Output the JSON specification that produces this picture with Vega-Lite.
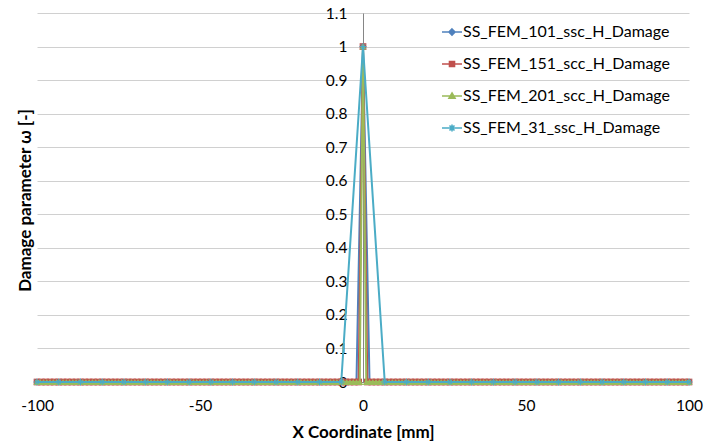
{
"$schema":"https://vega.github.io/schema/vega-lite/v6.json",
"width":652,"height":369,
"autosize":"none",
"padding":{"left":37,"top":13,"right":16,"bottom":61},
"background":"white",
"datasets":{
"a":[{"x":-100,"y":0},{"x":-98,"y":0},{"x":-96,"y":0},{"x":-94,"y":0},{"x":-92,"y":0},{"x":-90,"y":0},{"x":-88,"y":0},{"x":-86,"y":0},{"x":-84,"y":0},{"x":-82,"y":0},{"x":-80,"y":0},{"x":-78,"y":0},{"x":-76,"y":0},{"x":-74,"y":0},{"x":-72,"y":0},{"x":-70,"y":0},{"x":-68,"y":0},{"x":-66,"y":0},{"x":-64,"y":0},{"x":-62,"y":0},{"x":-60,"y":0},{"x":-58,"y":0},{"x":-56,"y":0},{"x":-54,"y":0},{"x":-52,"y":0},{"x":-50,"y":0},{"x":-48,"y":0},{"x":-46,"y":0},{"x":-44,"y":0},{"x":-42,"y":0},{"x":-40,"y":0},{"x":-38,"y":0},{"x":-36,"y":0},{"x":-34,"y":0},{"x":-32,"y":0},{"x":-30,"y":0},{"x":-28,"y":0},{"x":-26,"y":0},{"x":-24,"y":0},{"x":-22,"y":0},{"x":-20,"y":0},{"x":-18,"y":0},{"x":-16,"y":0},{"x":-14,"y":0},{"x":-12,"y":0},{"x":-10,"y":0},{"x":-8,"y":0},{"x":-6,"y":0},{"x":-4,"y":0},{"x":-2,"y":0},{"x":0,"y":1},{"x":2,"y":0},{"x":4,"y":0},{"x":6,"y":0},{"x":8,"y":0},{"x":10,"y":0},{"x":12,"y":0},{"x":14,"y":0},{"x":16,"y":0},{"x":18,"y":0},{"x":20,"y":0},{"x":22,"y":0},{"x":24,"y":0},{"x":26,"y":0},{"x":28,"y":0},{"x":30,"y":0},{"x":32,"y":0},{"x":34,"y":0},{"x":36,"y":0},{"x":38,"y":0},{"x":40,"y":0},{"x":42,"y":0},{"x":44,"y":0},{"x":46,"y":0},{"x":48,"y":0},{"x":50,"y":0},{"x":52,"y":0},{"x":54,"y":0},{"x":56,"y":0},{"x":58,"y":0},{"x":60,"y":0},{"x":62,"y":0},{"x":64,"y":0},{"x":66,"y":0},{"x":68,"y":0},{"x":70,"y":0},{"x":72,"y":0},{"x":74,"y":0},{"x":76,"y":0},{"x":78,"y":0},{"x":80,"y":0},{"x":82,"y":0},{"x":84,"y":0},{"x":86,"y":0},{"x":88,"y":0},{"x":90,"y":0},{"x":92,"y":0},{"x":94,"y":0},{"x":96,"y":0},{"x":98,"y":0},{"x":100,"y":0}],
"b":[{"x":-100,"y":0},{"x":-98.67,"y":0},{"x":-97.33,"y":0},{"x":-96,"y":0},{"x":-94.67,"y":0},{"x":-93.33,"y":0},{"x":-92,"y":0},{"x":-90.67,"y":0},{"x":-89.33,"y":0},{"x":-88,"y":0},{"x":-86.67,"y":0},{"x":-85.33,"y":0},{"x":-84,"y":0},{"x":-82.67,"y":0},{"x":-81.33,"y":0},{"x":-80,"y":0},{"x":-78.67,"y":0},{"x":-77.33,"y":0},{"x":-76,"y":0},{"x":-74.67,"y":0},{"x":-73.33,"y":0},{"x":-72,"y":0},{"x":-70.67,"y":0},{"x":-69.33,"y":0},{"x":-68,"y":0},{"x":-66.67,"y":0},{"x":-65.33,"y":0},{"x":-64,"y":0},{"x":-62.67,"y":0},{"x":-61.33,"y":0},{"x":-60,"y":0},{"x":-58.67,"y":0},{"x":-57.33,"y":0},{"x":-56,"y":0},{"x":-54.67,"y":0},{"x":-53.33,"y":0},{"x":-52,"y":0},{"x":-50.67,"y":0},{"x":-49.33,"y":0},{"x":-48,"y":0},{"x":-46.67,"y":0},{"x":-45.33,"y":0},{"x":-44,"y":0},{"x":-42.67,"y":0},{"x":-41.33,"y":0},{"x":-40,"y":0},{"x":-38.67,"y":0},{"x":-37.33,"y":0},{"x":-36,"y":0},{"x":-34.67,"y":0},{"x":-33.33,"y":0},{"x":-32,"y":0},{"x":-30.67,"y":0},{"x":-29.33,"y":0},{"x":-28,"y":0},{"x":-26.67,"y":0},{"x":-25.33,"y":0},{"x":-24,"y":0},{"x":-22.67,"y":0},{"x":-21.33,"y":0},{"x":-20,"y":0},{"x":-18.67,"y":0},{"x":-17.33,"y":0},{"x":-16,"y":0},{"x":-14.67,"y":0},{"x":-13.33,"y":0},{"x":-12,"y":0},{"x":-10.67,"y":0},{"x":-9.33,"y":0},{"x":-8,"y":0},{"x":-6.67,"y":0},{"x":-5.33,"y":0},{"x":-4,"y":0},{"x":-2.67,"y":0},{"x":-1.33,"y":0},{"x":0,"y":1},{"x":1.33,"y":0},{"x":2.67,"y":0},{"x":4,"y":0},{"x":5.33,"y":0},{"x":6.67,"y":0},{"x":8,"y":0},{"x":9.33,"y":0},{"x":10.67,"y":0},{"x":12,"y":0},{"x":13.33,"y":0},{"x":14.67,"y":0},{"x":16,"y":0},{"x":17.33,"y":0},{"x":18.67,"y":0},{"x":20,"y":0},{"x":21.33,"y":0},{"x":22.67,"y":0},{"x":24,"y":0},{"x":25.33,"y":0},{"x":26.67,"y":0},{"x":28,"y":0},{"x":29.33,"y":0},{"x":30.67,"y":0},{"x":32,"y":0},{"x":33.33,"y":0},{"x":34.67,"y":0},{"x":36,"y":0},{"x":37.33,"y":0},{"x":38.67,"y":0},{"x":40,"y":0},{"x":41.33,"y":0},{"x":42.67,"y":0},{"x":44,"y":0},{"x":45.33,"y":0},{"x":46.67,"y":0},{"x":48,"y":0},{"x":49.33,"y":0},{"x":50.67,"y":0},{"x":52,"y":0},{"x":53.33,"y":0},{"x":54.67,"y":0},{"x":56,"y":0},{"x":57.33,"y":0},{"x":58.67,"y":0},{"x":60,"y":0},{"x":61.33,"y":0},{"x":62.67,"y":0},{"x":64,"y":0},{"x":65.33,"y":0},{"x":66.67,"y":0},{"x":68,"y":0},{"x":69.33,"y":0},{"x":70.67,"y":0},{"x":72,"y":0},{"x":73.33,"y":0},{"x":74.67,"y":0},{"x":76,"y":0},{"x":77.33,"y":0},{"x":78.67,"y":0},{"x":80,"y":0},{"x":81.33,"y":0},{"x":82.67,"y":0},{"x":84,"y":0},{"x":85.33,"y":0},{"x":86.67,"y":0},{"x":88,"y":0},{"x":89.33,"y":0},{"x":90.67,"y":0},{"x":92,"y":0},{"x":93.33,"y":0},{"x":94.67,"y":0},{"x":96,"y":0},{"x":97.33,"y":0},{"x":98.67,"y":0},{"x":100,"y":0}],
"c":[{"x":-100,"y":0},{"x":-99,"y":0},{"x":-98,"y":0},{"x":-97,"y":0},{"x":-96,"y":0},{"x":-95,"y":0},{"x":-94,"y":0},{"x":-93,"y":0},{"x":-92,"y":0},{"x":-91,"y":0},{"x":-90,"y":0},{"x":-89,"y":0},{"x":-88,"y":0},{"x":-87,"y":0},{"x":-86,"y":0},{"x":-85,"y":0},{"x":-84,"y":0},{"x":-83,"y":0},{"x":-82,"y":0},{"x":-81,"y":0},{"x":-80,"y":0},{"x":-79,"y":0},{"x":-78,"y":0},{"x":-77,"y":0},{"x":-76,"y":0},{"x":-75,"y":0},{"x":-74,"y":0},{"x":-73,"y":0},{"x":-72,"y":0},{"x":-71,"y":0},{"x":-70,"y":0},{"x":-69,"y":0},{"x":-68,"y":0},{"x":-67,"y":0},{"x":-66,"y":0},{"x":-65,"y":0},{"x":-64,"y":0},{"x":-63,"y":0},{"x":-62,"y":0},{"x":-61,"y":0},{"x":-60,"y":0},{"x":-59,"y":0},{"x":-58,"y":0},{"x":-57,"y":0},{"x":-56,"y":0},{"x":-55,"y":0},{"x":-54,"y":0},{"x":-53,"y":0},{"x":-52,"y":0},{"x":-51,"y":0},{"x":-50,"y":0},{"x":-49,"y":0},{"x":-48,"y":0},{"x":-47,"y":0},{"x":-46,"y":0},{"x":-45,"y":0},{"x":-44,"y":0},{"x":-43,"y":0},{"x":-42,"y":0},{"x":-41,"y":0},{"x":-40,"y":0},{"x":-39,"y":0},{"x":-38,"y":0},{"x":-37,"y":0},{"x":-36,"y":0},{"x":-35,"y":0},{"x":-34,"y":0},{"x":-33,"y":0},{"x":-32,"y":0},{"x":-31,"y":0},{"x":-30,"y":0},{"x":-29,"y":0},{"x":-28,"y":0},{"x":-27,"y":0},{"x":-26,"y":0},{"x":-25,"y":0},{"x":-24,"y":0},{"x":-23,"y":0},{"x":-22,"y":0},{"x":-21,"y":0},{"x":-20,"y":0},{"x":-19,"y":0},{"x":-18,"y":0},{"x":-17,"y":0},{"x":-16,"y":0},{"x":-15,"y":0},{"x":-14,"y":0},{"x":-13,"y":0},{"x":-12,"y":0},{"x":-11,"y":0},{"x":-10,"y":0},{"x":-9,"y":0},{"x":-8,"y":0},{"x":-7,"y":0},{"x":-6,"y":0},{"x":-5,"y":0},{"x":-4,"y":0},{"x":-3,"y":0},{"x":-2,"y":0},{"x":-1,"y":0},{"x":0,"y":1},{"x":1,"y":0},{"x":2,"y":0},{"x":3,"y":0},{"x":4,"y":0},{"x":5,"y":0},{"x":6,"y":0},{"x":7,"y":0},{"x":8,"y":0},{"x":9,"y":0},{"x":10,"y":0},{"x":11,"y":0},{"x":12,"y":0},{"x":13,"y":0},{"x":14,"y":0},{"x":15,"y":0},{"x":16,"y":0},{"x":17,"y":0},{"x":18,"y":0},{"x":19,"y":0},{"x":20,"y":0},{"x":21,"y":0},{"x":22,"y":0},{"x":23,"y":0},{"x":24,"y":0},{"x":25,"y":0},{"x":26,"y":0},{"x":27,"y":0},{"x":28,"y":0},{"x":29,"y":0},{"x":30,"y":0},{"x":31,"y":0},{"x":32,"y":0},{"x":33,"y":0},{"x":34,"y":0},{"x":35,"y":0},{"x":36,"y":0},{"x":37,"y":0},{"x":38,"y":0},{"x":39,"y":0},{"x":40,"y":0},{"x":41,"y":0},{"x":42,"y":0},{"x":43,"y":0},{"x":44,"y":0},{"x":45,"y":0},{"x":46,"y":0},{"x":47,"y":0},{"x":48,"y":0},{"x":49,"y":0},{"x":50,"y":0},{"x":51,"y":0},{"x":52,"y":0},{"x":53,"y":0},{"x":54,"y":0},{"x":55,"y":0},{"x":56,"y":0},{"x":57,"y":0},{"x":58,"y":0},{"x":59,"y":0},{"x":60,"y":0},{"x":61,"y":0},{"x":62,"y":0},{"x":63,"y":0},{"x":64,"y":0},{"x":65,"y":0},{"x":66,"y":0},{"x":67,"y":0},{"x":68,"y":0},{"x":69,"y":0},{"x":70,"y":0},{"x":71,"y":0},{"x":72,"y":0},{"x":73,"y":0},{"x":74,"y":0},{"x":75,"y":0},{"x":76,"y":0},{"x":77,"y":0},{"x":78,"y":0},{"x":79,"y":0},{"x":80,"y":0},{"x":81,"y":0},{"x":82,"y":0},{"x":83,"y":0},{"x":84,"y":0},{"x":85,"y":0},{"x":86,"y":0},{"x":87,"y":0},{"x":88,"y":0},{"x":89,"y":0},{"x":90,"y":0},{"x":91,"y":0},{"x":92,"y":0},{"x":93,"y":0},{"x":94,"y":0},{"x":95,"y":0},{"x":96,"y":0},{"x":97,"y":0},{"x":98,"y":0},{"x":99,"y":0},{"x":100,"y":0}],
"d":[{"x":-100,"y":0},{"x":-93.33,"y":0},{"x":-86.67,"y":0},{"x":-80,"y":0},{"x":-73.33,"y":0},{"x":-66.67,"y":0},{"x":-60,"y":0},{"x":-53.33,"y":0},{"x":-46.67,"y":0},{"x":-40,"y":0},{"x":-33.33,"y":0},{"x":-26.67,"y":0},{"x":-20,"y":0},{"x":-13.33,"y":0},{"x":-6.67,"y":0},{"x":0,"y":1},{"x":6.67,"y":0},{"x":13.33,"y":0},{"x":20,"y":0},{"x":26.67,"y":0},{"x":33.33,"y":0},{"x":40,"y":0},{"x":46.67,"y":0},{"x":53.33,"y":0},{"x":60,"y":0},{"x":66.67,"y":0},{"x":73.33,"y":0},{"x":80,"y":0},{"x":86.67,"y":0},{"x":93.33,"y":0},{"x":100,"y":0}]
},
"encoding":{
"x":{"field":"x","type":"quantitative","scale":{"domain":[-100,100],"nice":false,"zero":false},
 "axis":{"values":[-100,-50,0,50,100],"labelExpr":"datum.value + ''","grid":false,"ticks":false,"domainColor":"#868686","labelPadding":16,"labelFontSize":15.5,"labelColor":"#000000","labelFlush":false,"labelOverlap":false,
 "title":"X Coordinate [mm]","titleFontWeight":"bold","titleFontSize":17,"titleColor":"#000000","titleBaseline":"middle","titleY":50}},
"y":{"field":"y","type":"quantitative","scale":{"domain":[0,1.1],"nice":false},
 "axis":{"values":[0,0.1,0.2,0.3,0.4,0.5,0.6,0.7,0.8,0.9,1,1.1],"format":".1~f","offset":-326,"grid":true,"gridColor":"#d0d0d0","gridWidth":1,"ticks":false,"domainColor":"#868686","labelPadding":16,"labelFontSize":15.5,"labelColor":"#000000","labelFlush":false,"labelOverlap":false,
 "title":"Damage parameter ω [-]","titleX":-338,"titleY":187,"titleBaseline":"middle","titleFontWeight":"bold","titleFontSize":17,"titleColor":"#000000"}}
},
"layer":[
{"data":{"name":"a"},"mark":{"type":"line","strokeWidth":2},"encoding":{"color":{"datum":"SS_FEM_101_ssc_H_Damage","type":"nominal",
 "scale":{"domain":["SS_FEM_101_ssc_H_Damage","SS_FEM_151_scc_H_Damage","SS_FEM_201_scc_H_Damage","SS_FEM_31_ssc_H_Damage"],"range":["#4F81BD","#C0504D","#9BBB59","#4BACC6"]},
 "legend":{"orient":"none","legendX":404,"legendY":8,"title":null,"labelFontSize":16,"labelColor":"#000000","labelLimit":0,"rowPadding":13,"padding":0,"labelOffset":0,"symbolSize":400,
  "encode":{"symbols":{"update":{
   "shape":{"signal":"datum.value === 'SS_FEM_101_ssc_H_Damage' ? 'M-1,0H1M0,-0.3L0.3,0L0,0.3L-0.3,0Z' : datum.value === 'SS_FEM_151_scc_H_Damage' ? 'M-1,0H1M-0.25,-0.25H0.25V0.25H-0.25Z' : datum.value === 'SS_FEM_201_scc_H_Damage' ? 'M-1,0H1M0,-0.3L0.3,0.22L-0.3,0.22Z' : 'M-1,0H1M-0.35,0H0.35M0,-0.35V0.35M-0.25,-0.25L0.25,0.25M-0.25,0.25L0.25,-0.25'"},
   "stroke":{"scale":"color","field":"value"},
   "fill":{"scale":"color","field":"value"},
   "strokeWidth":{"value":1.6},
   "size":{"value":400},
   "opacity":{"value":1}
  }}}}}}},
{"data":{"name":"a"},"mark":{"type":"point","shape":"diamond","filled":true,"size":45,"opacity":1},"encoding":{"color":{"datum":"SS_FEM_101_ssc_H_Damage","type":"nominal"}}},
{"data":{"name":"b"},"mark":{"type":"line","strokeWidth":2},"encoding":{"color":{"datum":"SS_FEM_151_scc_H_Damage","type":"nominal"}}},
{"data":{"name":"b"},"mark":{"type":"point","shape":"square","filled":true,"size":45,"opacity":1},"encoding":{"color":{"datum":"SS_FEM_151_scc_H_Damage","type":"nominal"}}},
{"data":{"name":"c"},"mark":{"type":"line","strokeWidth":2},"encoding":{"color":{"datum":"SS_FEM_201_scc_H_Damage","type":"nominal"}}},
{"data":{"name":"c"},"mark":{"type":"point","shape":"triangle-up","filled":true,"size":50,"opacity":1},"encoding":{"color":{"datum":"SS_FEM_201_scc_H_Damage","type":"nominal"}}},
{"data":{"name":"d"},"mark":{"type":"line","strokeWidth":2},"encoding":{"color":{"datum":"SS_FEM_31_ssc_H_Damage","type":"nominal"}}},
{"data":{"name":"d"},"mark":{"type":"point","shape":"M-1,0H1M0,-1V1M-0.7,-0.7L0.7,0.7M-0.7,0.7L0.7,-0.7","filled":false,"strokeWidth":1,"size":49,"opacity":1},"encoding":{"color":{"datum":"SS_FEM_31_ssc_H_Damage","type":"nominal"}}}
],
"config":{"font":"Lato","view":{"stroke":null},"axis":{"labelFont":"Lato","titleFont":"Lato"},"legend":{"labelFont":"Lato"}}
}
